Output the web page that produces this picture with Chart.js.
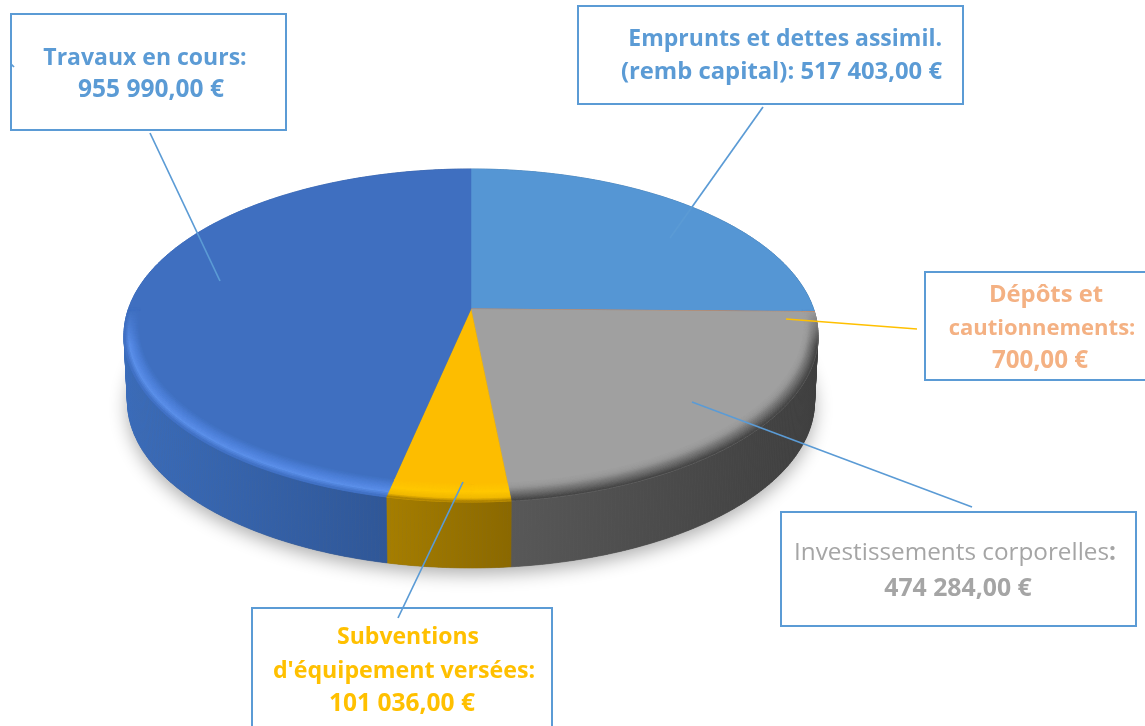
<!DOCTYPE html>
<html>
<head>
<meta charset="utf-8">
<title>Dépenses d'investissement</title>
<script src="https://cdn.jsdelivr.net/npm/chart.js@4"></script>
<style>
  html, body { margin: 0; padding: 0; background: #fff; overflow: hidden; }
  #wrap { position: relative; width: 1145px; height: 726px; overflow: hidden; }
  canvas { position: absolute; left: 0; top: 0; }
  .box { position: absolute; box-sizing: border-box; border: 2.5px solid #5b9bd5; }
  .line {
    position: absolute; white-space: nowrap; height: 30px;
    font: 700 23px/30px "Open Sans", sans-serif; transform: translateX(-50%);
  }
  .line.right { transform: translateX(-100%); }
  .thin { font-weight: 400; }
</style>
</head>
<body>
<div id="wrap">
  <canvas id="PieChart" width="1145" height="726"></canvas>
</div>
<script>
const categories = [
  'Emprunts et dettes assimil. (remb capital)',
  'Dépôts et cautionnements',
  'Investissements corporelles',
  "Subventions d'équipement versées",
  'Travaux en cours',
];
const amounts = [517403, 700, 474284, 101036, 955990];
const sliceColors = ['#5596d4', '#ed7d31', '#a0a0a0', '#fdbd00', '#3f6fc0'];
const wallLeft = ['#3b6f9f', '#a85a20', '#585858', '#a67e00', '#3a6cba'];
const wallRight = ['#3b6f9f', '#a85a20', '#3e3e3e', '#8a6800', '#2c508c'];
const bevelStops = [
  [[0, '#5596d4'], [1, '#4a86c0']],
  [[0, '#ed7d31'], [1, '#a85a20']],
  [[0, '#a0a0a0'], [0.3, '#989898'], [0.7, '#6a6a6a'], [1, '#464646']],
  [[0, '#fdbd00'], [0.5, '#ffc800'], [0.85, '#f0b800'], [1, '#b08400']],
  [[0, '#3f6fc0'], [0.45, '#4f82dc'], [0.75, '#5c90ea'], [1, '#4272c6']],
];

// callout frames: left, top, width, height
const boxes = [
  [10, 13, 277, 118],
  [577, 5, 387, 100],
  [924, 271, 240, 110],
  [780, 511, 357, 116],
  [251, 607, 302, 140],
];
const calloutText = [
  { text: 'Travaux en cours:', x: 145, y: 56, size: 23, color: '#5b9bd5' },
  { text: '955 990,00 €', x: 151, y: 88, size: 24.5, color: '#5b9bd5' },
  { text: 'Emprunts et dettes assimil.', x: 942, y: 37, size: 23, color: '#5b9bd5', right: true },
  { text: '(remb capital): 517 403,00 €', x: 942, y: 70, size: 23.8, color: '#5b9bd5', right: true },
  { text: 'Dépôts et', x: 1046, y: 293, size: 23.8, color: '#f4b183' },
  { text: 'cautionnements:', x: 1042, y: 326, size: 22, color: '#f4b183' },
  { text: '700,00 €', x: 1040, y: 359, size: 24.2, color: '#f4b183' },
  { html: '<span class="thin">Investissements corporelles</span>:', x: 955, y: 551, size: 24.3, color: '#a5a5a5' },
  { text: '474 284,00 €', x: 958, y: 586, size: 24.8, color: '#a5a5a5' },
  { text: 'Subventions', x: 408, y: 635, size: 23, color: '#ffc000' },
  { text: "d'équipement versées:", x: 404, y: 669, size: 23.2, color: '#ffc000' },
  { text: '101 036,00 €', x: 402, y: 702, size: 24.5, color: '#ffc000' },
];
const leaders = [
  [150, 133, 220, 281, '#5b9bd5'],
  [763, 107, 670, 238, '#5b9bd5'],
  [786, 319, 917, 329, '#ffc000'],
  [692, 402, 972, 507, '#5b9bd5'],
  [463, 482, 398, 618, '#5b9bd5'],
  [11, 64, 14, 67, '#5b9bd5'],
];

// the picture is a tilted disc, so the arcs go through a perspective map
const CX = 471, CY = 309, A = 342.6, B = 162.3, C = 0.159, DEPTH = 66;

function project(angle, r) {
  const u = Math.cos(angle) * r;
  const v = Math.sin(angle) * r;
  const k = 1 - C * v;
  return [CX + A * u / k, CY + B * v / k];
}

function bottomOf(p) {
  return [CX + (p[0] - CX) * 0.99, p[1] + DEPTH];
}

function samples(start, end) {
  const n = Math.max(2, Math.ceil((end - start) / 0.01));
  const list = [];
  for (let i = 0; i <= n; i++) list.push(start + (end - start) * i / n);
  return list;
}

function hexToRgb(hex) {
  return [1, 3, 5].map((i) => parseInt(hex.substr(i, 2), 16));
}

function mix(c1, c2, t) {
  return c1.map((c, i) => c + (c2[i] - c) * t);
}

function stopColor(stops, t) {
  for (let i = 1; i < stops.length; i++) {
    if (t <= stops[i][0]) {
      const f = (t - stops[i - 1][0]) / (stops[i][0] - stops[i - 1][0]);
      return mix(hexToRgb(stops[i - 1][1]), hexToRgb(stops[i][1]), f);
    }
  }
  return hexToRgb(stops[stops.length - 1][1]);
}

// stays on the radius, wider band towards the viewer
function bevelPoint(angle, t) {
  const width = 0.035 + 0.045 * Math.max(0, Math.sin(angle));
  return project(angle, 1 - width * (1 - t));
}

function fillQuad(ctx, p0, p1, p2, p3, style) {
  ctx.fillStyle = style;
  ctx.strokeStyle = style;
  ctx.lineWidth = 0.6;
  ctx.beginPath();
  ctx.moveTo(p0[0], p0[1]);
  ctx.lineTo(p1[0], p1[1]);
  ctx.lineTo(p2[0], p2[1]);
  ctx.lineTo(p3[0], p3[1]);
  ctx.closePath();
  ctx.fill();
  ctx.stroke();
}

const disc3d = {
  id: 'disc3d',
  beforeDatasetsDraw(chart) {
    const ctx = chart.ctx;
    const arcs = chart.getDatasetMeta(0).data;
    ctx.save();

    // soft shadow under the disc
    ctx.save();
    ctx.shadowColor = 'rgba(0,0,0,0.32)';
    ctx.shadowBlur = 18;
    ctx.shadowOffsetY = 6;
    ctx.fillStyle = '#666';
    ctx.beginPath();
    samples(0, Math.PI * 2).forEach((a) => {
      const p = bottomOf(project(a, 1));
      ctx.lineTo(p[0], p[1]);
    });
    ctx.closePath();
    ctx.fill();
    ctx.restore();

    // side wall, one quad per sample so the outline stays convex
    arcs.forEach((arc, i) => {
      const top = samples(arc.startAngle, arc.endAngle).map((a) => project(a, 1));
      const xs = top.map((p) => p[0]);
      const minX = Math.min(...xs), maxX = Math.max(...xs);
      const grad = ctx.createLinearGradient(minX - 1, 0, maxX + 1, 0);
      grad.addColorStop(0, wallLeft[i]);
      grad.addColorStop(1, wallRight[i]);
      for (let j = 0; j < top.length - 1; j++) {
        fillQuad(ctx, top[j], top[j + 1], bottomOf(top[j + 1]), bottomOf(top[j]), grad);
      }
    });

    // top face
    arcs.forEach((arc) => {
      ctx.fillStyle = arc.options.backgroundColor;
      ctx.strokeStyle = arc.options.backgroundColor;
      ctx.lineWidth = 0.5;
      ctx.beginPath();
      ctx.moveTo(CX, CY);
      samples(arc.startAngle, arc.endAngle).forEach((a) => {
        const p = project(a, 1);
        ctx.lineTo(p[0], p[1]);
      });
      ctx.closePath();
      ctx.fill();
      ctx.stroke();
    });

    // rounded rim on the near half
    const steps = 12;
    arcs.forEach((arc, i) => {
      const face = hexToRgb(sliceColors[i]);
      const angles = samples(arc.startAngle, arc.endAngle);
      for (let k = 0; k < steps; k++) {
        const t0 = k / steps, t1 = (k + 1) / steps;
        for (let j = 0; j < angles.length - 1; j++) {
          const a0 = angles[j], a1 = angles[j + 1];
          const w = Math.min(1, Math.max(0, Math.sin(a0) / 0.22));
          if (w === 0) continue;
          const rgb = mix(face, stopColor(bevelStops[i], t1), w).map(Math.round);
          fillQuad(ctx, bevelPoint(a0, t0), bevelPoint(a1, t0), bevelPoint(a1, t1), bevelPoint(a0, t1),
            `rgb(${rgb[0]},${rgb[1]},${rgb[2]})`);
        }
      }
    });

    ctx.restore();
    return false;
  },
  afterDraw(chart) {
    const ctx = chart.ctx;
    ctx.save();
    ctx.lineWidth = 1.7;
    leaders.forEach((l) => {
      ctx.strokeStyle = l[4];
      ctx.beginPath();
      ctx.moveTo(l[0], l[1]);
      ctx.lineTo(l[2], l[3]);
      ctx.stroke();
    });
    ctx.restore();
  },
};

new Chart(document.getElementById('PieChart').getContext('2d'), {
  type: 'pie',
  data: {
    labels: categories,
    datasets: [
      {
        data: amounts,
        backgroundColor: sliceColors,
        borderWidth: 0,
      },
    ],
  },
  options: {
    responsive: false,
    animation: false,
    events: [],
    plugins: {
      legend: { display: false },
      tooltip: { enabled: false },
    },
  },
  plugins: [disc3d],
});

const wrap = document.getElementById('wrap');
boxes.forEach((b) => {
  const el = document.createElement('div');
  el.className = 'box';
  el.style.cssText = `left:${b[0]}px;top:${b[1]}px;width:${b[2]}px;height:${b[3]}px`;
  wrap.appendChild(el);
});
calloutText.forEach((t) => {
  const el = document.createElement('div');
  el.className = t.right ? 'line right' : 'line';
  el.style.left = t.x + 'px';
  el.style.top = t.y - 15 + 'px';
  el.style.fontSize = t.size + 'px';
  el.style.color = t.color;
  if (t.html) el.innerHTML = t.html;
  else el.textContent = t.text;
  wrap.appendChild(el);
});
</script>
</body>
</html>
